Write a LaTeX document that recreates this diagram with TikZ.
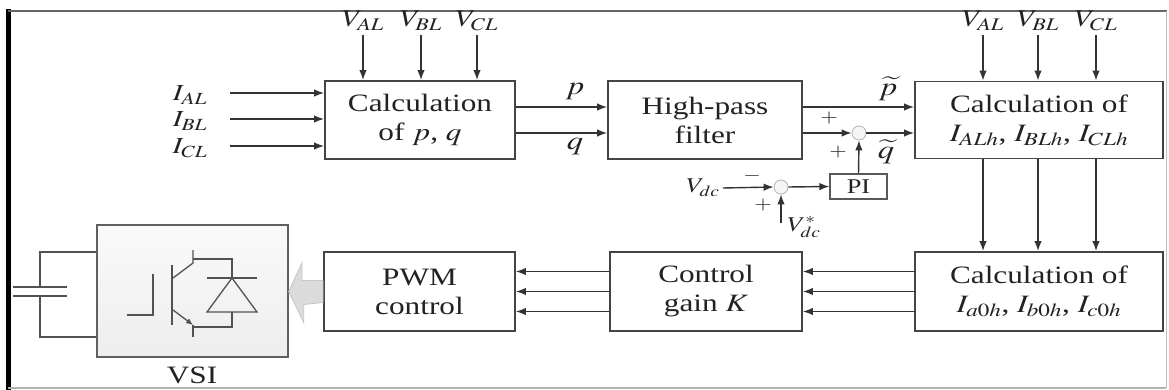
\documentclass[tikz,border=0pt]{standalone}
\usepackage{mathptmx}
\usepackage{fontspec}
\setmainfont{Liberation Serif}
\usepackage{graphicx}
\usetikzlibrary{arrows.meta}
\definecolor{ln}{HTML}{333333}
\definecolor{bx}{HTML}{444444}
\definecolor{tx}{HTML}{222222}
\newcommand{\hwide}[1]{\scalebox{1.25}[1]{#1}}
\begin{document}
\begin{tikzpicture}[x=1pt,y=-1pt,
  blk/.style={draw=bx, line width=1.9pt, fill=white, inner sep=0pt, align=center, text=tx, font=\fontsize{25}{29}\selectfont},
  arr/.style={draw=ln, line width=1.4pt, -{Latex[length=10pt,width=7.5pt]}},
  lbl/.style={text=tx, inner sep=1pt},
  lI/.style={lbl, font=\fontsize{23}{26}\selectfont},
  lV/.style={lbl, font=\fontsize{24}{28}\selectfont},
  lS/.style={lbl, font=\fontsize{18}{20}\selectfont},
  sumc/.style={circle, draw=gray!60, line width=0.8pt, fill=gray!8, minimum size=14pt, inner sep=0pt},
  dev/.style={draw=ln!85, line width=1.3pt}]
\useasboundingbox (0,0) rectangle (1169,390);
% frame
\fill[black] (6,9) rectangle (11,390);
\draw[gray!80!black, line width=2.5pt] (8,11) -- (1167,11);
\draw[gray!50, line width=1pt] (1166,11) -- (1166,388);
\draw[gray!60, line width=1.2pt] (8,388) -- (1166,388);

% blocks
\node[blk, minimum width=190pt, minimum height=78pt] (c1) at (420,120) {\hwide{Calculation}\\\hwide{of $p$, $q$}};
\node[blk, minimum width=194pt, minimum height=78pt] (hpf) at (705,120) {\hwide{High-pass}\\\hwide{filter}};
\node[blk, minimum width=248pt, minimum height=77pt] (c2) at (1039,120) {\hwide{Calculation of}\\\hwide{$I_{ALh}$, $I_{BLh}$, $I_{CLh}$}};
\node[blk, minimum width=248pt, minimum height=79pt] (c3) at (1039,291.5) {\hwide{Calculation of}\\\hwide{$I_{a0h}$, $I_{b0h}$, $I_{c0h}$}};
\node[blk, minimum width=192pt, minimum height=79pt] (cg) at (706,291.5) {\hwide{Control}\\\hwide{gain $K$}};
\node[blk, minimum width=191pt, minimum height=79pt] (pwm) at (419.5,291.5) {\hwide{PWM}\\\hwide{control}};
\node[draw=gray!75!black, line width=1.4pt, top color=gray!4, bottom color=gray!14, minimum width=191pt, minimum height=132pt, inner sep=0pt] (vsi) at (192.5,291) {};
\node[lbl, font=\fontsize{25}{28}\selectfont] (vsil) at (192,375) {\hwide{VSI}};

% current inputs
\node[lI] (ial) at (190,95) {\hwide{$I_{AL}$}};
\node[lI] (ibl) at (190,121) {\hwide{$I_{BL}$}};
\node[lI] (icl) at (190,148) {\hwide{$I_{CL}$}};
\coordinate (ia) at (230,93);
\coordinate (ib) at (230,119);
\coordinate (ic) at (230,146);
\draw[arr] (ia) -- (ia -| c1.west);
\draw[arr] (ib) -- (ib -| c1.west);
\draw[arr] (ic) -- (ic -| c1.west);

% voltage inputs
\node[lV] (va1) at (363,21) {\hwide{$V_{AL}$}};
\node[lV] (vb1) at (421,21) {\hwide{$V_{BL}$}};
\node[lV] (vc1) at (477,21) {\hwide{$V_{CL}$}};
\draw[arr, shorten <=3pt] (va1.south) -- (va1.south |- c1.north);
\draw[arr, shorten <=3pt] (vb1.south) -- (vb1.south |- c1.north);
\draw[arr, shorten <=3pt] (vc1.south) -- (vc1.south |- c1.north);
\node[lV] (va2) at (983,21) {\hwide{$V_{AL}$}};
\node[lV] (vb2) at (1038,21) {\hwide{$V_{BL}$}};
\node[lV] (vc2) at (1096,21) {\hwide{$V_{CL}$}};
\draw[arr, shorten <=3pt] (va2.south) -- (va2.south |- c2.north);
\draw[arr, shorten <=3pt] (vb2.south) -- (vb2.south |- c2.north);
\draw[arr, shorten <=3pt] (vc2.south) -- (vc2.south |- c2.north);

% p, q
\draw[arr] ([yshift=13pt]c1.east) -- ([yshift=13pt]hpf.west);
\draw[arr] ([yshift=-13pt]c1.east) -- ([yshift=-13pt]hpf.west);
\node[lV, font=\fontsize{26}{28}\selectfont] (pl) at (575,92) {\hwide{$p$}};
\node[lV, font=\fontsize{26}{28}\selectfont] (ql) at (575,147) {\hwide{$q$}};

% p~, q~
\draw[arr] ([yshift=13pt]hpf.east) -- ([yshift=13pt]c2.west);
\node[lV, font=\fontsize{26}{28}\selectfont] (ptl) at (888,89) {\hwide{$\widetilde{p}$}};
\node[sumc] (s1) at (859,133) {};
\draw[arr] ([yshift=-13pt]hpf.east) -- (s1.west);
\draw[arr] (s1.east) -- (s1 -| c2.west);
\node[lV, font=\fontsize{26}{28}\selectfont] (qtl) at (886,152) {\hwide{$\widetilde{q}$}};
\node[lS] (p1) at (829,118) {\hwide{$+$}};
\node[lS] (p2) at (838,152) {\hwide{$+$}};

% PI loop
\node[draw=gray!70!black, line width=1.2pt, minimum width=57pt, minimum height=25pt, inner sep=0pt, text=tx, font=\fontsize{21}{22}\selectfont] (pi) at (858.5,186.5) {\hwide{PI}};
\node[sumc] (s2) at (781,187) {};
\node[lbl, font=\fontsize{21}{22}\selectfont] (vdc) at (703,188) {\hwide{$V_{dc}$}};
\draw[arr] ([xshift=2pt]vdc.east) -- (s2.west);
\draw[arr] (s2.east) -- (pi.west);
\draw[arr] (pi.north) -- (s1.south);
\node[lS] (mn) at (752,176) {\hwide{$-$}};
\node[lS] (p3) at (763,205) {\hwide{$+$}};
\coordinate (vref) at (781,223);
\draw[arr] (vref) -- (s2.south);
\node[lbl, font=\fontsize{21}{22}\selectfont] (vdcs) at (804,227) {\hwide{$V_{dc}^{*}$}};

% vertical c2 -> c3
\draw[arr] ([xshift=-56pt]c2.south) -- ([xshift=-56pt]c3.north);
\draw[arr] ([xshift=-1pt]c2.south) -- ([xshift=-1pt]c3.north);
\draw[arr] ([xshift=57pt]c2.south) -- ([xshift=57pt]c3.north);

% lower arrows
\foreach \d in {20,0,-20}{
  \draw[arr] ([yshift=\d pt]c3.west) -- ([yshift=\d pt]cg.east);
  \draw[arr] ([yshift=\d pt]cg.west) -- ([yshift=\d pt]pwm.east);
}

% big hollow arrow PWM -> VSI
\filldraw[fill=gray!28, draw=gray!45, line width=0.8pt]
  ([yshift=11pt]pwm.west) -- ++(-21,0) -- ++(0,-18) -- (vsi.east |- pwm.west) -- ++(15,31) -- ++(0,-18) -- ([yshift=-11pt]pwm.west) -- cycle;

% capacitor
\draw[dev] (vsi.west |- 0,252) -- (40,252) -- (40,287);
\draw[dev] (vsi.west |- 0,337) -- (40,337) -- (40,296);
\draw[dev] (13,287) -- (67,287);
\draw[dev] (13,296) -- (67,296);

% IGBT + diode
\draw[dev] (127,315) -- (153,315) -- (153,274);
\draw[dev] (172,265) -- (172,325);
\draw[dev] (193,250) -- (193,263) -- (173,278);
\draw[dev, -{Latex[length=7pt,width=6pt]}] (173,310) -- (193,325);
\draw[dev] (193,325) -- (193,337);
\draw[dev] (193,259) -- (232,259) -- (232,278);
\draw[dev] (207,278) -- (257,278);
\draw[dev] (232,278) -- (207,312) -- (257,312) -- cycle;
\draw[dev] (232,312) -- (232,327) -- (193,327);
\end{tikzpicture}
\end{document}
